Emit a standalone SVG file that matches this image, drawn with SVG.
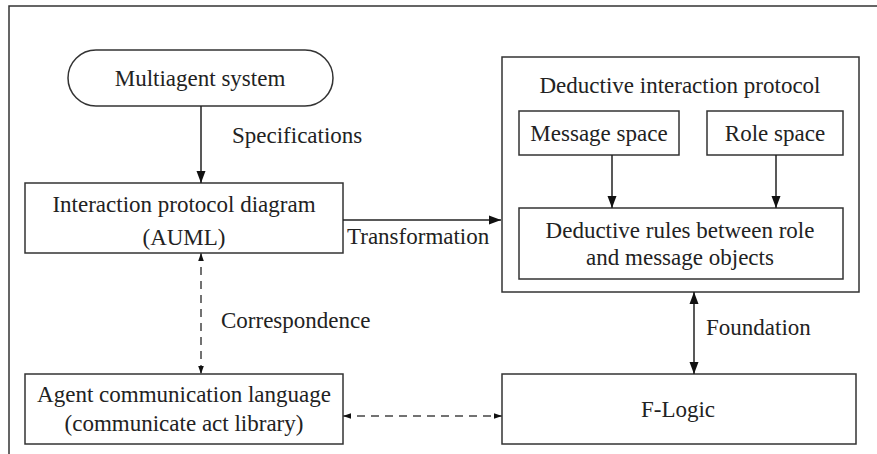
<svg xmlns="http://www.w3.org/2000/svg" width="877" height="454" viewBox="0 0 877 454">
<style>
.box{fill:#fff;stroke:#333;stroke-width:1.5}
.t{font-family:'Liberation Serif','DejaVu Serif',serif;font-size:23px;fill:#222;text-anchor:middle}
.l{font-family:'Liberation Serif','DejaVu Serif',serif;font-size:23px;fill:#222}
.c{stroke:#222;stroke-width:1.5;fill:none}
.d{stroke:#444;stroke-width:1.5;fill:none;stroke-dasharray:8,6}
</style>
<defs>
<marker id="a" viewBox="0 0 12 10" refX="12" refY="5" markerWidth="12" markerHeight="10" markerUnits="userSpaceOnUse" orient="auto-start-reverse"><path d="M0,0.5 L12,5 L0,9.5 Z" fill="#111"/></marker>
<marker id="s" viewBox="0 0 10 10" refX="10" refY="5" markerWidth="8" markerHeight="8" markerUnits="userSpaceOnUse" orient="auto-start-reverse"><path d="M0,1.5 L10,5 L0,8.5 Z" fill="#111"/></marker>
</defs>
<rect width="877" height="454" fill="#fff"/>
<path d="M9,454 V6 H877" fill="none" stroke="#333" stroke-width="1.5"/>
<g id="multiagent"><rect class="box" x="68" y="50" width="265" height="56" rx="28"/><text class="t" x="200" y="86">Multiagent system</text></g>
<g id="ipd"><rect class="box" x="25" y="183" width="318" height="70"/><text class="t" x="184" y="212">Interaction protocol diagram</text><text class="t" x="184" y="245">(AUML)</text></g>
<g id="dip"><rect class="box" x="502" y="57" width="357" height="235"/><text class="t" x="680" y="93">Deductive interaction protocol</text></g>
<g id="msg"><rect class="box" x="519" y="111" width="160" height="44"/><text class="t" x="599" y="141">Message space</text></g>
<g id="role"><rect class="box" x="707" y="111" width="136" height="44"/><text class="t" x="775" y="141">Role space</text></g>
<g id="rules"><rect class="box" x="519" y="208" width="324" height="71"/><text class="t" x="680" y="238">Deductive rules between role</text><text class="t" x="680" y="265">and message objects</text></g>
<g id="acl"><rect class="box" x="25" y="374" width="318" height="70"/><text class="t" x="184" y="402">Agent communication language</text><text class="t" x="184" y="431">(communicate act library)</text></g>
<g id="flogic"><rect class="box" x="502" y="374" width="354" height="70"/><text class="t" x="678" y="417">F-Logic</text></g>
<g id="connectors">
<line class="c" x1="201" y1="106" x2="201" y2="183" marker-end="url(#a)"/>
<text class="l" x="232" y="143">Specifications</text>
<line class="c" x1="343" y1="220" x2="501" y2="220" marker-end="url(#a)"/>
<text class="l" x="347" y="244">Transformation</text>
<line class="c" x1="694" y1="292" x2="694" y2="374" marker-start="url(#a)" marker-end="url(#a)"/>
<line class="c" x1="612" y1="155" x2="612" y2="208" marker-end="url(#a)"/>
<line class="c" x1="776" y1="155" x2="776" y2="208" marker-end="url(#a)"/>
<text class="l" x="706" y="335">Foundation</text>
<line class="d" x1="201" y1="253" x2="201" y2="374" marker-start="url(#s)" marker-end="url(#s)"/>
<text class="l" x="221" y="328">Correspondence</text>
<line class="d" x1="343" y1="416" x2="502" y2="416" marker-start="url(#s)" marker-end="url(#s)"/>
</g>
</svg>
